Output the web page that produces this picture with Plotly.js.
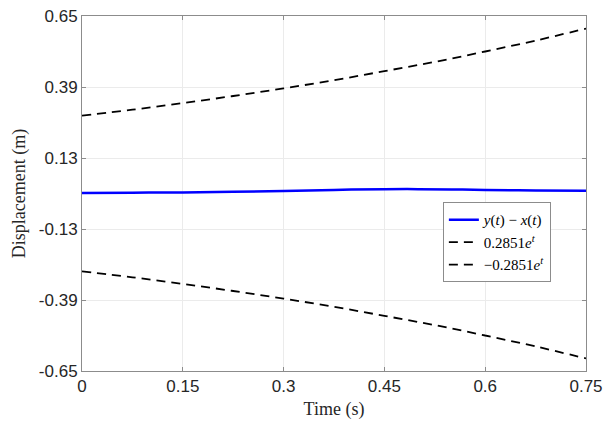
<!DOCTYPE html>
<html>
<head>
<meta charset="utf-8">
<script src="https://cdn.plot.ly/plotly-3.0.1.min.js"></script>
<style>
  html, body { margin: 0; padding: 0; background: white; }
  #plot { width: 613px; height: 431px; }
</style>
</head>
<body>
<div id="plot"></div>
<script>
// Values
const tDiff = [0, 0.075, 0.15, 0.225, 0.3, 0.375, 0.45, 0.5, 0.55, 0.6, 0.675, 0.75];
const diffValues = [0.002, 0.003, 0.004, 0.006, 0.009, 0.013, 0.016, 0.016, 0.015, 0.013, 0.011, 0.010];

const tBound = [0, 0.075, 0.15, 0.225, 0.3, 0.375, 0.45, 0.525, 0.6, 0.675, 0.75];
const upperBound = [0.285, 0.307, 0.331, 0.357, 0.385, 0.415, 0.448, 0.482, 0.520, 0.560, 0.604];
const lowerBound = [-0.285, -0.307, -0.331, -0.357, -0.385, -0.415, -0.448, -0.482, -0.520, -0.560, -0.604];

const xTicks = [0, 0.15, 0.3, 0.45, 0.6, 0.75];
const xTickLabels = ['0', '0.15', '0.3', '0.45', '0.6', '0.75'];
const yTicks = [-0.65, -0.39, -0.13, 0.13, 0.39, 0.65];
const yTickLabels = ['-0.65', '-0.39', '-0.13', '0.13', '0.39', '0.65'];

const sansFont = '"Liberation Sans", Arial, sans-serif';
const serifFont = '"Liberation Serif", "Times New Roman", serif';

const diffTrace = {
    x: tDiff,
    y: diffValues,
    type: 'scatter',
    mode: 'lines',
    name: '<i>y</i>(<i>t</i>) \u2212 <i>x</i>(<i>t</i>)',
    line: { color: '#0000ff', width: 2.5, shape: 'spline' }
};

const upperTrace = {
    x: tBound,
    y: upperBound,
    type: 'scatter',
    mode: 'lines',
    name: '0.2851<i>e</i><sup><i>t</i></sup>',
    line: { color: '#000000', width: 1.8, dash: '9px,6px', shape: 'spline' }
};

const lowerTrace = {
    x: tBound,
    y: lowerBound,
    type: 'scatter',
    mode: 'lines',
    name: '\u22120.2851<i>e</i><sup><i>t</i></sup>',
    line: { color: '#000000', width: 1.8, dash: '9px,6px', shape: 'spline' }
};

const axisCommon = {
    showgrid: true,
    gridcolor: '#ebebeb',
    gridwidth: 1,
    zeroline: false,
    showline: true,
    linecolor: '#8c8c8c',
    linewidth: 1,
    mirror: 'ticks',
    ticks: 'inside',
    ticklen: 4,
    tickcolor: '#8c8c8c',
    tickfont: { family: sansFont, size: 17, color: '#262626' }
};

const layout = {
    width: 613,
    height: 431,
    margin: { l: 82, r: 27, t: 16, b: 60 },
    paper_bgcolor: 'white',
    plot_bgcolor: 'white',
    showlegend: true,
    xaxis: Object.assign({}, axisCommon, {
        range: [0, 0.75],
        tickvals: xTicks,
        ticktext: xTickLabels,
        title: {
            text: 'Time (s)',
            font: { family: serifFont, size: 18, color: '#262626' },
            standoff: 6
        }
    }),
    yaxis: Object.assign({}, axisCommon, {
        range: [-0.65, 0.65],
        tickvals: yTicks,
        ticktext: yTickLabels,
        title: {
            text: 'Displacement (m)',
            font: { family: serifFont, size: 18, color: '#262626' },
            standoff: 8
        }
    }),
    legend: {
        x: 0.716,
        y: 0.475,
        xanchor: 'left',
        yanchor: 'top',
        bgcolor: 'white',
        bordercolor: '#8c8c8c',
        borderwidth: 1,
        font: { family: serifFont, size: 15, color: '#000000' },
        tracegroupgap: 0,
        itemwidth: 30
    }
};

Plotly.newPlot('plot', [diffTrace, upperTrace, lowerTrace], layout, { displayModeBar: false, staticPlot: true });
</script>
</body>
</html>
